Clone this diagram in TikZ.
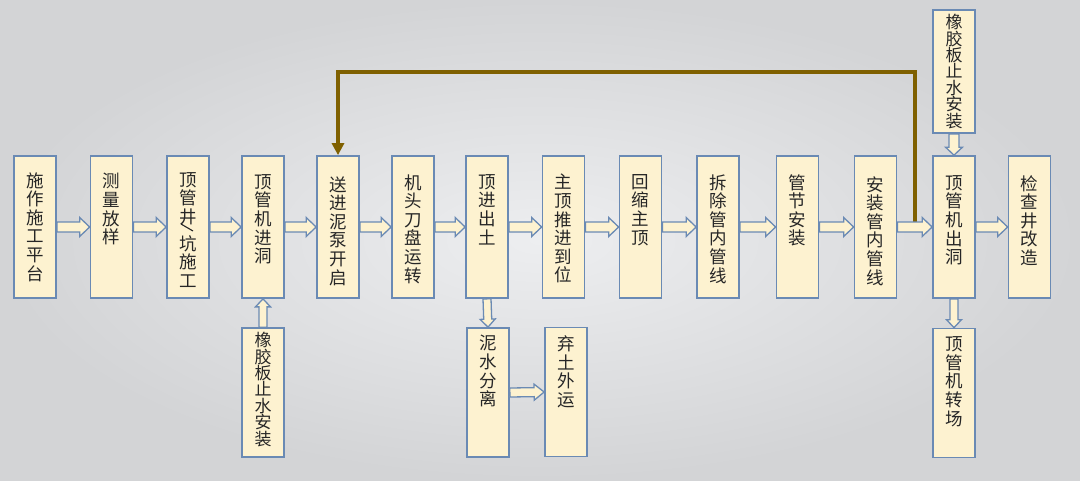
\documentclass[tikz,border=0pt]{standalone}
\usepackage{fontspec}
\newfontfamily\cjk{Noto Sans CJK SC}
\usetikzlibrary{calc,arrows.meta}
\definecolor{boxfill}{HTML}{FDF2D0}
\definecolor{boxline}{HTML}{6A8AB4}
\definecolor{loopcol}{HTML}{7F6000}
\definecolor{txtcol}{HTML}{262626}
\definecolor{bgin}{HTML}{EDEEF0}
\definecolor{bgout}{HTML}{D3D4D6}
\tikzset{
  box/.style={draw=boxline, fill=boxfill, line width=1.7pt, minimum width=42pt, inner sep=0pt},
  mainbox/.style={box, minimum height=142pt},
  lowbox/.style={box, minimum height=129pt},
  txt/.style={anchor=north, inner sep=0pt, align=center, text=txtcol, font=\cjk\fontsize{17.5}{18.6}\selectfont},
  txtsm/.style={txt, font=\cjk\fontsize{17}{16.4}\selectfont},
  blk/.style={draw=boxline, fill=boxfill, line width=1.3pt, line join=miter},
  loopline/.style={draw=loopcol, line width=3.5pt, line join=miter, -{Triangle[length=12pt,width=12pt]}}
}
% #1 start, #2 end, #3 shaft half width, #4 head half width, #5 head length
\newcommand\blkarrowx[5]{%
  \path[blk] let \p1=(#1), \p2=(#2), \n1={atan2(\y2-\y1,\x2-\x1)}, \n2={veclen(\x2-\x1,\y2-\y1)} in
    [shift={(\p1)}, rotate=\n1]
    (0pt,#3pt) -- ({(\n2-#5)*1pt},#3pt) -- ({(\n2-#5)*1pt},#4pt) -- ({\n2*1pt},0pt)
    -- ({(\n2-#5)*1pt},-#4pt) -- ({(\n2-#5)*1pt},-#3pt) -- (0pt,-#3pt) -- cycle;}
\newcommand\blkarrow[2]{\blkarrowx{#1}{#2}{5}{9.5}{10}}
\newcommand\blkarrowv[2]{\blkarrowx{#1}{#2}{4}{7.5}{8}}
\begin{document}
\begin{tikzpicture}[x=1pt,y=-1pt]
\useasboundingbox (0,0) rectangle (1080,480);
\shade[inner color=bgin, outer color=bgout] (0,0) rectangle (1080,480);

% main row
\node[mainbox] (n1)  at (35,227)   {};
\node[mainbox] (n2)  at (111.5,227) {};
\node[mainbox] (n3)  at (188,227)  {};
\node[mainbox] (n4)  at (263,227)  {};
\node[mainbox] (n5)  at (338,227)  {};
\node[mainbox] (n6)  at (413,227)  {};
\node[mainbox] (n7)  at (487,227)  {};
\node[mainbox] (n8)  at (563.5,227) {};
\node[mainbox] (n9)  at (640.5,227) {};
\node[mainbox] (n10) at (718,227)  {};
\node[mainbox] (n11) at (797.5,227) {};
\node[mainbox] (n12) at (875.5,227) {};
\node[mainbox] (n13) at (954,227)  {};
\node[mainbox] (n14) at (1029.5,227) {};

% side boxes
\node[lowbox] (b4)  at (263,392.5) {};
\node[lowbox] (b7)  at (488,392.5) {};
\node[lowbox] (b8)  at (566,392)   {};
\node[box, minimum height=123pt] (t13) at (954,71.5) {};
\node[lowbox] (b13) at (954,393)   {};

% texts
\node[txt] at ([yshift=-17pt]n1.north)  {施\\作\\施\\工\\平\\台};
\node[txt] at ([yshift=-18pt]n2.north)  {测\\量\\放\\样};
\node[txt] at ([yshift=-17pt]n3.north)  {顶\\管\\井};
\draw[txtcol, line width=1.1pt] ($(n3.center)+(-7,-3)$) -- ($(n3.center)+(5,4)$);
\node[txt] at ([yshift=-80pt]n3.north)  {坑\\施\\工};
\node[txt] at ([yshift=-19pt]n4.north)  {顶\\管\\机\\进\\洞};
\node[txt] at ([yshift=-21pt]n5.north)  {送\\进\\泥\\泵\\开\\启};
\node[txt] at ([yshift=-19pt]n6.north)  {机\\头\\刀\\盘\\运\\转};
\node[txt] at ([yshift=-19pt]n7.north)  {顶\\进\\出\\土};
\node[txt] at ([yshift=-19pt]n8.north)  {主\\顶\\推\\进\\到\\位};
\node[txt] at ([yshift=-19pt]n9.north)  {回\\缩\\主\\顶};
\node[txt] at ([yshift=-19pt]n10.north) {拆\\除\\管\\内\\管\\线};
\node[txt] at ([yshift=-19pt]n11.north) {管\\节\\安\\装};
\node[txt] at ([yshift=-21pt]n12.north) {安\\装\\管\\内\\管\\线};
\node[txt] at ([yshift=-20pt]n13.north) {顶\\管\\机\\出\\洞};
\node[txt] at ([yshift=-20pt]n14.north) {检\\查\\井\\改\\造};
\node[txtsm] at ([yshift=-5pt]b4.north)  {橡\\胶\\板\\止\\水\\安\\装};
\node[txt] at ([yshift=-8pt]b7.north)  {泥\\水\\分\\离};
\node[txt] at ([yshift=-9pt]b8.north)  {弃\\土\\外\\运};
\node[txtsm] at ([yshift=-5pt]t13.north) {橡\\胶\\板\\止\\水\\安\\装};
\node[txt] at ([yshift=-9pt]b13.north) {顶\\管\\机\\转\\场};

% loop connector
\coordinate (ls) at ($(n12.east)!0.5!(n13.west)+(0,-5)$);
\draw[loopline] (ls) -- (ls |- 0,72) -| (n5.north);

% block arrows
\blkarrow{n1.east}{n2.west}
\blkarrow{n2.east}{n3.west}
\blkarrow{n3.east}{n4.west}
\blkarrow{n4.east}{n5.west}
\blkarrow{n5.east}{n6.west}
\blkarrow{n6.east}{n7.west}
\blkarrow{n7.east}{n8.west}
\blkarrow{n8.east}{n9.west}
\blkarrow{n9.east}{n10.west}
\blkarrow{n10.east}{n11.west}
\blkarrow{n11.east}{n12.west}
\blkarrow{n12.east}{n13.west}
\blkarrow{n13.east}{n14.west}
\blkarrowx{b7.east}{b8.west}{4.5}{8}{10}
\blkarrowv{b4.north}{n4.south}
\blkarrowv{n7.south}{b7.north}
\blkarrowx{t13.south}{n13.north}{5}{8.5}{8}
\blkarrowv{n13.south}{b13.north}
\end{tikzpicture}
\end{document}
